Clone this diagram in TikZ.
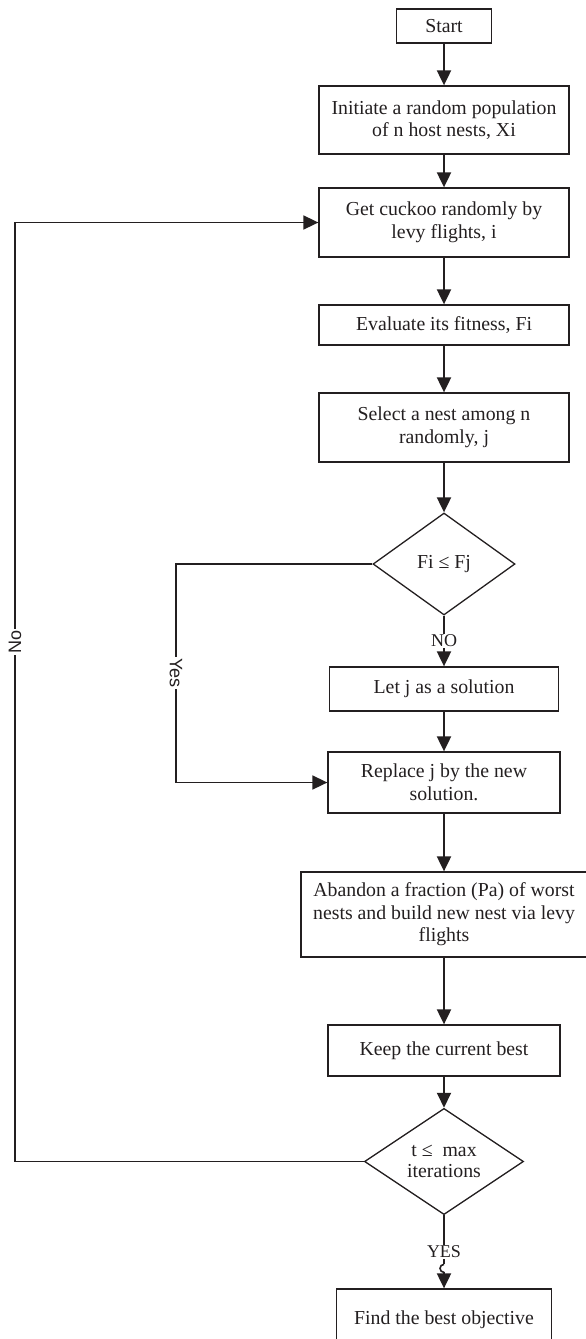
\documentclass[tikz,border=0pt]{standalone}
\usepackage{fontspec}
\setmainfont{Liberation Serif}
\newfontfamily\lblsans{Liberation Sans}
\usetikzlibrary{arrows.meta,shapes.geometric,calc}
\definecolor{ink}{RGB}{35,31,32}
\tikzset{
  box/.style={draw=ink, line width=1.3pt, align=center, inner sep=0pt,
    font=\fontsize{19.8}{22.5}\selectfont, text=ink},
  decision/.style={diamond, draw=ink, line width=1.3pt, align=center, inner sep=0pt,
    font=\fontsize{19.8}{21}\selectfont, text=ink},
  arr/.style={draw=ink, line width=2pt, -{Triangle[length=15pt,width=14pt]}},
  side/.style={draw=ink, line width=1.7pt, -{Triangle[length=15pt,width=14pt]}},
  serlbl/.style={fill=white, inner sep=1pt, font=\fontsize{18}{18}\selectfont, text=ink},
  sanslbl/.style={fill=white, inner sep=1.5pt, font=\lblsans\fontsize{18}{18}\selectfont, text=ink}
}
\begin{document}
\begin{tikzpicture}[x=1pt,y=-1pt]
\useasboundingbox (0,0) rectangle (586,1339);
\clip (0,0) rectangle (586,1339);

\node[box, minimum width=95, minimum height=34] (start) at (444,26) {Start};
\node[box, minimum width=250, minimum height=68] (init) at (444,120)
  {Initiate a random population\\of n host nests, Xi};
\node[box, minimum width=250, minimum height=69] (get) at (444,222.5)
  {Get cuckoo randomly by\\levy flights, i};
\node[box, minimum width=250, minimum height=40] (eval) at (444,325)
  {Evaluate its fitness, Fi};
\node[box, minimum width=250, minimum height=69] (sel) at (444,427.5)
  {Select a nest among n\\randomly, j};
\node[decision, minimum width=142, minimum height=102] (d1) at (444,564)
  {Fi ≤ Fj};
\node[box, minimum width=229, minimum height=44] (letj) at (444,689)
  {Let j as a solution};
\node[box, minimum width=232, minimum height=61] (rep) at (444,782.5)
  {Replace j by the new\\solution.};
\node[box, minimum width=286, minimum height=85] (aban) at (444,914.5)
  {Abandon a fraction (Pa) of worst\\nests and build new nest via levy\\flights};
\node[box, minimum width=232, minimum height=51] (keep) at (444,1050.5)
  {Keep the current best};
\node[decision, minimum width=159, minimum height=103] (d2) at (444,1161.5)
  {t ≤ \ max\\iterations};
\node[box, minimum width=215, minimum height=62] (find) at (444,1320)
  {Find the best objective};

\draw[arr] (start) -- (init);
\draw[arr] (init) -- (get);
\draw[arr] (get) -- (eval);
\draw[arr] (eval) -- (sel);
\draw[arr] (sel) -- (d1);
\draw[arr] (d1) -- node[serlbl]{NO} (letj);
\draw[arr] (letj) -- (rep);
\draw[arr] (rep) -- (aban);
\draw[arr] (aban) -- (keep);
\draw[arr] (keep) -- (d2);
\draw[arr] (d2) -- node[serlbl, pos=0.5]{YES} (find);
% small line hop on the YES connector
\fill[white] ($(find.north)+(-2,-24)$) rectangle ($(find.north)+(2,-16)$);
\draw[draw=ink, line width=1.6pt] ($(find.north)+(0,-24)$) arc[start angle=90, end angle=270, radius=4pt];

\coordinate (yc) at (176,564);
\draw[side] (d1.west) -- (yc) |- node[sanslbl, rotate=-90, pos=0.25]{Yes} (rep.west);

\coordinate (nc) at (15,1161.5);
\draw[side] (d2.west) -- (nc) |- node[sanslbl, rotate=90, pos=0.2766]{No} (get.west);
\end{tikzpicture}
\end{document}
